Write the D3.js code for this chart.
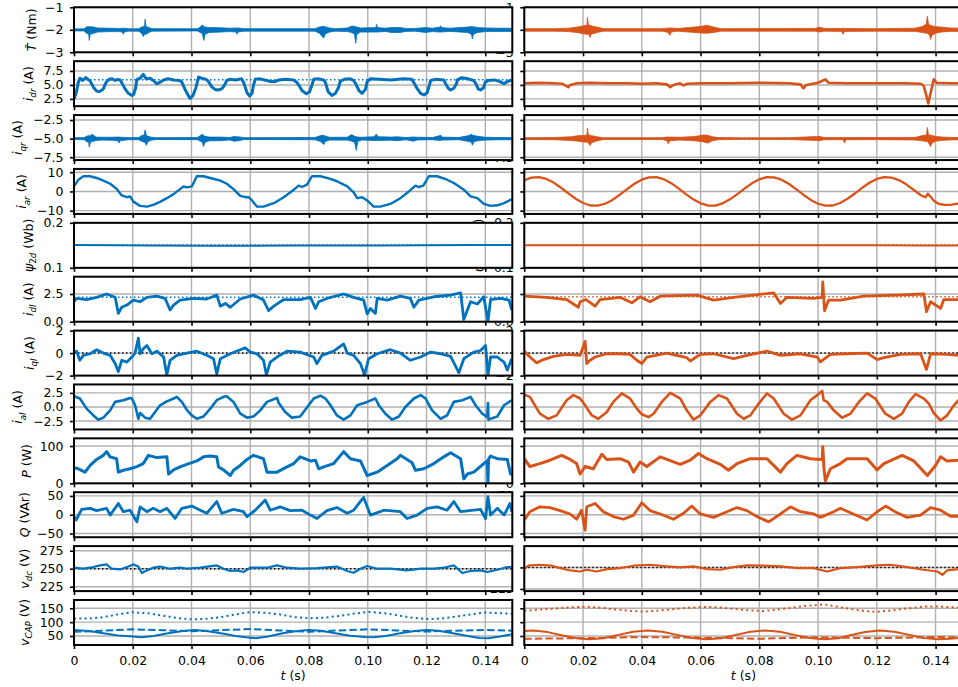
<!DOCTYPE html>
<html>
<head>
<meta charset="utf-8">
<script src="https://cdn.jsdelivr.net/npm/d3@7"></script>
<style>
body { margin: 0; background: #fff; }
text { font-family: "DejaVu Sans", sans-serif; }
</style>
</head>
<body>
<div id="chart"></div>
<script>
// ---- data, time in ms ----
// noise envelopes [t, low, high]
var tqL = [[0,-2.05,-1.96],[3.5,-2.05,-1.95],[4.2,-2.15,-1.88],[5.0,-2.2,-1.85],[5.2,-2.47,-1.88],[5.5,-2.2,-1.86],[6.8,-2.15,-1.88],[8,-2.1,-1.92],[12,-2.08,-1.93],[15.7,-2.08,-1.94],[16.6,-2.12,-1.93],[16.8,-2.2,-1.93],[17.1,-2.1,-1.93],[18.5,-2.06,-1.95],[22,-2.06,-1.95],[23,-2.15,-1.88],[23.6,-2.3,-1.85],[24.0,-2.2,-1.85],[24.2,-2.2,-1.53],[24.5,-2.2,-1.85],[25.5,-2.12,-1.9],[26.5,-2.06,-1.95],[42,-2.05,-1.95],[43,-2.12,-1.88],[43.7,-2.18,-1.78],[44.2,-2.47,-1.86],[44.6,-2.2,-1.88],[46,-2.12,-1.9],[50,-2.1,-1.91],[53,-2.08,-1.93],[55.2,-2.1,-1.92],[55.5,-2.2,-1.92],[55.8,-2.1,-1.92],[58,-2.06,-1.95],[82,-2.06,-1.95],[83.5,-2.15,-1.88],[85,-2.37,-1.84],[85.4,-2.2,-1.86],[87,-2.1,-1.92],[89,-2.06,-1.95],[93,-2.08,-1.92],[94.5,-2.12,-1.84],[95.5,-2.2,-1.84],[95.9,-2.6,-1.86],[96.3,-2.2,-1.88],[97.5,-2.1,-1.92],[100,-2.1,-1.91],[102.8,-2.1,-1.9],[103,-2.1,-1.76],[103.3,-2.1,-1.9],[106,-2.07,-1.93],[108,-2.12,-1.9],[111,-2.12,-1.9],[113,-2.07,-1.94],[116,-2.06,-1.94],[119.7,-2.12,-1.9],[122,-2.08,-1.93],[124.6,-2.1,-1.88],[124.8,-2.1,-1.82],[125.1,-2.1,-1.9],[128,-2.07,-1.93],[134,-2.12,-1.88],[135.3,-2.2,-1.85],[135.6,-2.4,-1.86],[136,-2.2,-1.86],[137.3,-2.12,-1.9],[140,-2.08,-1.92],[145,-2.07,-1.93],[149,-2.07,-1.93]];
var tqR = [[0,-2.06,-1.95],[10,-2.06,-1.95],[15,-2.08,-1.93],[18,-2.12,-1.88],[20.3,-2.18,-1.82],[21.3,-2.2,-1.8],[21.5,-2.2,-1.44],[21.8,-2.22,-1.78],[22.2,-2.25,-1.8],[22.4,-2.34,-1.8],[22.7,-2.2,-1.82],[24,-2.15,-1.86],[25.5,-2.1,-1.9],[27,-2.06,-1.95],[47,-2.06,-1.95],[49,-2.12,-1.92],[49.5,-2.25,-1.92],[50,-2.1,-1.92],[52,-2.06,-1.94],[56,-2.1,-1.9],[60,-2.14,-1.85],[62.2,-2.15,-1.8],[64.5,-2.12,-1.88],[67,-2.06,-1.95],[99,-2.06,-1.94],[100.5,-2.1,-1.88],[102,-2.06,-1.94],[108,-2.07,-1.94],[108.5,-2.2,-1.93],[109,-2.07,-1.94],[120,-2.06,-1.95],[133,-2.07,-1.93],[135.5,-2.12,-1.85],[136.8,-2.15,-1.75],[137.2,-2.15,-1.4],[137.6,-2.2,-1.75],[138.0,-2.25,-1.78],[138.3,-2.43,-1.8],[138.7,-2.25,-1.82],[140,-2.15,-1.86],[142,-2.1,-1.88],[145,-2.07,-1.92],[149,-2.07,-1.93]];
var iqL = [[0,-5.12,-4.88],[3.5,-5.14,-4.86],[4.2,-5.4,-4.7],[5.0,-5.5,-4.6],[5.2,-6.16,-4.65],[5.6,-5.5,-4.55],[6.3,-5.4,-4.46],[7.5,-5.25,-4.8],[10,-5.2,-4.82],[13,-5.22,-4.82],[15,-5.3,-4.8],[15.3,-5.6,-4.8],[15.7,-5.3,-4.82],[18.5,-5.15,-4.86],[22,-5.15,-4.86],[23,-5.35,-4.6],[23.9,-5.5,-4.5],[24.2,-5.5,-3.84],[24.6,-5.9,-4.5],[25.2,-5.4,-4.7],[26.5,-5.2,-4.82],[28,-5.12,-4.88],[42,-5.14,-4.86],[43,-5.35,-4.6],[43.7,-5.5,-4.4],[44.1,-6.07,-4.6],[44.6,-5.5,-4.7],[46,-5.3,-4.8],[50,-5.28,-4.8],[53,-5.18,-4.85],[54.5,-5.35,-4.72],[56.5,-5.25,-4.78],[58,-5.12,-4.88],[82,-5.15,-4.85],[84,-5.4,-4.6],[85,-5.8,-4.55],[85.5,-5.4,-4.65],[87,-5.2,-4.82],[93,-5.2,-4.82],[94.5,-5.35,-4.46],[95.5,-5.5,-4.7],[96.1,-6.6,-4.75],[96.6,-5.4,-4.8],[98,-5.2,-4.82],[102,-5.25,-4.75],[103,-5.25,-4.4],[103.4,-5.25,-4.75],[108,-5.22,-4.8],[110,-5.28,-4.76],[113,-5.15,-4.86],[115.5,-5.35,-4.78],[117,-5.18,-4.82],[122,-5.15,-4.85],[124.6,-5.25,-4.6],[124.8,-5.25,-4.5],[125.2,-5.2,-4.8],[131,-5.15,-4.85],[134.4,-5.4,-4.6],[135.3,-5.5,-4.4],[135.6,-5.9,-4.55],[136.2,-5.4,-4.6],[137.5,-5.3,-4.7],[140,-5.2,-4.82],[145,-5.15,-4.86],[149,-5.15,-4.86]];
var iqR = [[0,-5.12,-4.88],[10,-5.15,-4.86],[16,-5.25,-4.75],[18.4,-5.35,-4.6],[20.3,-5.45,-4.6],[21.3,-5.5,-4.5],[21.5,-5.5,-3.57],[21.8,-5.6,-4.5],[22.4,-5.94,-4.55],[22.8,-5.6,-4.6],[24,-5.4,-4.7],[25.5,-5.25,-4.8],[27,-5.12,-4.88],[47,-5.12,-4.88],[48.5,-5.3,-4.8],[49,-5.7,-4.8],[49.5,-5.3,-4.8],[53,-5.2,-4.82],[58,-5.3,-4.72],[61,-5.45,-4.5],[62.5,-5.6,-4.55],[64,-5.3,-4.75],[66,-5.15,-4.86],[75,-5.1,-4.9],[90,-5.12,-4.88],[99.5,-5.25,-4.72],[100.5,-5.3,-4.7],[102,-5.15,-4.86],[108.5,-5.15,-4.86],[109,-5.6,-4.86],[109.5,-5.15,-4.86],[120,-5.14,-4.86],[133,-5.18,-4.84],[135.5,-5.3,-4.6],[136.9,-5.4,-4.5],[137.2,-5.4,-3.5],[137.6,-5.6,-4.5],[138.3,-6.07,-4.55],[138.8,-5.6,-4.6],[140,-5.35,-4.7],[142,-5.25,-4.78],[145,-5.18,-4.84],[149,-5.15,-4.86]];

// lines [t, value]
var idrL = [[0,2.5],[0.7,3.5],[1.5,5.5],[2.0,6.2],[3,5.8],[4,6.3],[5,5.9],[5.5,5.7],[6.6,4.6],[7.7,3.9],[8.3,3.8],[9,3.9],[10,4.3],[10.5,5.0],[11.1,5.6],[12,6.0],[13,6.1],[14,5.8],[15,6.0],[15.7,5.9],[16.25,5.4],[17.4,4.3],[18.5,3.5],[19.7,3.1],[20.3,3.3],[21,4.5],[21.4,6.0],[22.5,6.2],[23.6,6.9],[24.5,6.1],[25.9,6.2],[27,5.8],[28.2,5.2],[29.3,5.5],[30.5,5.9],[32,6.1],[34,5.9],[36,5.8],[36.7,5.5],[37.8,4.2],[38.8,3.2],[39.5,2.6],[40.5,3.1],[41.5,4.5],[42.4,6.4],[43.5,6.2],[45,6.0],[45.8,5.6],[47,4.6],[48,4.2],[49,4.1],[50.3,4.3],[51.3,5.0],[52,5.8],[53,6.0],[55,5.9],[57,6.1],[57.7,5.5],[58.9,3.6],[59.8,3.0],[60.6,3.5],[61.1,5.0],[61.7,6.0],[63,6.1],[65.7,5.8],[66.8,5.6],[68.5,5.6],[69.7,5.9],[72,6.0],[74.8,5.9],[75.9,5.4],[76.5,5.0],[77.6,4.0],[79.1,3.4],[80.2,3.8],[81,5.0],[81.6,6.0],[83,6.1],[85,5.9],[85.6,5.4],[86.5,3.8],[87.8,3.1],[89,3.5],[90,4.5],[90.7,5.7],[92,6.0],[94,6.1],[95.2,5.8],[95.8,5.3],[97,4.0],[98.1,3.5],[99.2,4.2],[99.8,5.6],[101,6.1],[104,6.0],[108,5.9],[112,6.1],[115,6.0],[115.7,5.4],[117,4.2],[118,3.5],[119.1,3.2],[120.2,3.6],[121,5.0],[121.4,5.8],[123,6.0],[125.9,5.9],[126.5,5.2],[127.4,4.4],[128.2,4.1],[129.3,4.4],[130.2,5.2],[130.5,5.9],[132,6.3],[134,6.1],[136.1,5.8],[136.7,5.3],[137.6,4.3],[138.4,4.1],[139.4,4.5],[140,5.5],[141,5.8],[143,5.9],[145,5.6],[146.4,5.2],[147.5,5.6],[149,5.9]];
var idrR = [[0,5.3],[5,5.4],[10,5.3],[13,5.2],[14.4,4.8],[15,4.6],[15.6,5.0],[18,5.3],[22,5.4],[28,5.3],[35,5.3],[40,5.2],[45,5.3],[48.5,5.1],[49.7,4.6],[50.8,5.0],[53,5.3],[54.2,4.9],[55.3,5.2],[60,5.3],[70,5.3],[80,5.4],[90,5.3],[94,5.1],[95,4.4],[96,5.0],[100,5.4],[102.5,6.0],[103.5,5.4],[110,5.3],[120,5.3],[130,5.3],[135,5.2],[136,4.8],[136.9,3.0],[137.5,1.7],[138.3,3.5],[139.4,6.0],[140.3,5.4],[145,5.3],[149,5.3]];
var iarL = [[0,2.6],[1.5,6.1],[3.2,7.9],[5.5,7.9],[7.7,7.0],[10,5.6],[12.3,4.0],[14.5,1.4],[16.25,-2.1],[18,-3.0],[19.1,-2.6],[20.2,-5.3],[22.5,-7.5],[24.8,-7.9],[27,-7.0],[29.3,-5.4],[31.6,-3.5],[33.9,-1.4],[36.1,1.2],[37.3,2.6],[38.4,2.1],[40.1,2.6],[41.8,7.9],[44.1,7.9],[46.4,7.0],[49.8,5.6],[52,4.0],[54.3,1.2],[56.6,-2.3],[58.3,-3.0],[59.4,-3.0],[60.6,-4.7],[62.3,-7.9],[64.5,-7.9],[68,-6.1],[71.4,-3.0],[74.8,0.9],[76.5,3.0],[77.6,2.3],[79.3,3.5],[81,7.9],[83.9,7.9],[87.3,6.5],[89.5,5.3],[93,2.6],[95.2,-0.5],[96.4,-3.5],[98.1,-3.0],[99.8,-4.7],[102,-7.9],[104.3,-7.9],[107.7,-6.5],[111.1,-3.5],[114,0],[116.25,3.0],[117.4,2.3],[118.9,3.0],[120.8,7.9],[123.6,7.9],[127,6.1],[129.3,4.4],[132.7,0.9],[135,-2.6],[137.3,-3.5],[139.5,-6.5],[141.8,-7.5],[144.1,-7.2],[146.4,-6.1],[149,-4.0]];
var iarR = [[0,5.9],[2.5,7.2],[5,7.4],[7.5,6.5],[10,4.6],[12.5,1.9],[15,-1.0],[17.5,-3.8],[20,-6.0],[22.5,-7.3],[25,-7.4],[27.5,-6.4],[30,-4.4],[32.5,-1.7],[35,1.2],[37.5,4.0],[40,6.1],[42.5,7.3],[45,7.4],[47.5,6.3],[50,4.3],[52.5,1.6],[55,-1.4],[57.5,-4.1],[60,-6.2],[62.5,-7.3],[65,-7.4],[67.5,-6.2],[70,-4.1],[72.5,-1.4],[75,1.5],[77.5,4.2],[80,6.3],[82.5,7.4],[85,7.3],[87.5,6.1],[90,4.0],[92.5,1.2],[95,-1.7],[97.5,-4.4],[100,-6.4],[102.5,-7.4],[105,-7.3],[107.5,-6.0],[110,-3.8],[112.5,-1.1],[115,1.9],[117.5,4.5],[120,6.5],[122.5,7.4],[125,7.2],[127.5,5.9],[130,3.7],[132.5,0.9],[135,-2.0],[136.6,-3.0],[137.4,-1.2],[138.2,-2.6],[139.5,-5.0],[141,-6.4],[143,-7.0],[145,-7.0],[147.5,-6.3],[149,-5.9]];
var psiL = [[0,0.1506],[15,0.15],[25,0.1494],[45,0.1493],[60,0.1492],[75,0.1497],[90,0.1494],[105,0.1497],[120,0.1503],[135,0.1506],[149,0.1507]];
var psiR = [[0,0.15],[40,0.1499],[80,0.15],[120,0.1499],[135,0.1497],[149,0.1497]];
var idlL = [[0,1.8],[0.9,2.1],[4.3,2.0],[7.7,2.2],[11.1,2.5],[14,2.2],[15.1,0.75],[16.25,1.3],[18,1.5],[20.2,1.95],[22.5,1.8],[24.8,2.2],[28.2,2.3],[31,2.1],[32.7,1.05],[33.9,1.5],[36.1,1.95],[40.7,2.1],[45.2,2.05],[48.6,2.4],[49.8,1.4],[51.5,1.65],[53.2,1.3],[56.6,2.05],[61.1,2.4],[64.5,1.95],[66.25,1.0],[68,1.4],[71.4,2.0],[77,2.0],[80.5,2.2],[82.2,1.2],[83.3,1.8],[86.1,2.1],[91.8,2.5],[95.2,2.2],[98.6,1.95],[99.8,0.7],[100.9,1.2],[102.6,0.75],[103.2,2.1],[106.6,1.95],[111.1,2.3],[114.5,2.1],[115.7,1.3],[117.4,1.95],[122.5,2.25],[128.2,2.4],[131.6,2.6],[132.7,0.2],[133.9,1.05],[135,1.8],[137.3,1.6],[139.5,2.25],[140.9,0.0],[141.8,2.0],[145.2,2.1],[148.1,1.95],[149,1.05]];
var idlR = [[0,2.3],[7.6,2.2],[14.4,2.0],[18.4,1.3],[19,1.8],[21,2.0],[24.1,1.4],[25.8,2.0],[32.6,2.2],[36.6,1.7],[39.4,2.25],[42.8,1.8],[46.25,2.3],[58.75,2.4],[64.4,1.95],[71.25,2.2],[84.9,2.6],[87.2,1.65],[89.4,2.2],[98.5,2.1],[101.4,2.2],[101.6,3.6],[102.2,1.0],[103.6,1.95],[107.6,1.95],[115.6,2.3],[126.9,2.4],[136,2.5],[136.9,0.9],[138.3,1.8],[141.7,1.2],[142.8,2.0],[149,2.0]];
var iqlL = [[0,0],[0.9,0.17],[2.0,-0.64],[3.2,-0.2],[5.5,-0.06],[7.7,0.3],[10,0],[12.3,-0.2],[14,-0.93],[15.1,-1.65],[16.25,-0.64],[18,-0.8],[19.7,-0.35],[20.8,0],[21.9,1.33],[22.5,-0.06],[23.6,0.38],[24.8,0.67],[26.5,-0.06],[28.2,0.17],[30.5,-0.35],[31.6,-1.94],[32.7,-0.64],[35,-0.2],[38.4,0],[41.8,0.17],[45.2,-0.2],[47.5,-0.5],[48.6,-1.86],[49.8,-0.5],[53.2,-0.06],[56.6,0.3],[58.3,0.46],[60,0.09],[62.3,-0.06],[64.5,-0.64],[65.5,-1.94],[66.8,-0.8],[69.1,-0.35],[72.5,0.17],[77,0.09],[81.6,-0.35],[82.7,-0.93],[84.4,-0.2],[88.4,0.17],[91.8,0.81],[93,0],[95.2,-0.2],[97.5,-0.93],[98.9,-1.94],[100.3,-0.5],[103.2,-0.06],[107.7,0.3],[111.1,0],[114.5,-0.64],[118,-0.35],[121.4,0.09],[124.8,-0.06],[128.2,-0.29],[131,-1.74],[132.7,-0.5],[136.1,0.09],[138.4,0.23],[140.1,0.67],[140.9,-2.0],[141.8,-0.35],[144.1,-0.35],[146.4,-0.8],[147.5,-1.5],[149,-0.5]];
var iqlR = [[0,0.17],[1.9,-0.35],[4.2,-0.87],[6.5,-0.58],[9.9,-0.29],[14.4,-0.12],[19,-0.2],[20.7,1.04],[21.25,-0.93],[22.4,-0.64],[24.1,-0.35],[28.1,-0.06],[32.6,-0.06],[36,-0.12],[38.3,-0.64],[40,-0.93],[41.7,-0.35],[48.5,0],[55.3,-0.41],[56.5,-0.7],[59.9,-0.12],[64.4,-0.06],[71.25,-0.5],[75.8,-0.2],[82.6,0.17],[87.2,-0.2],[94,-0.06],[99.7,-0.35],[100.8,-0.78],[104.2,-0.12],[109.9,-0.06],[116.7,0],[120.1,-0.58],[122.4,-0.41],[128.1,-0.12],[134.9,-0.06],[136.9,-1.45],[138.3,-0.06],[143.9,-0.12],[147.8,-0.2],[149,-0.1]];
var ialL = [[0,1.9],[2.0,1.5],[4.3,-0.3],[6.6,-1.5],[8.3,-2.26],[10,-1.9],[12.3,-0.6],[14,0.9],[16.8,1.2],[19.1,1.6],[19.7,1.5],[20.8,0.3],[21.9,-2.1],[22.5,-1.07],[24.2,-1.9],[25.9,-2.1],[27.6,-0.9],[29.3,0.3],[31.6,1.0],[33.9,1.5],[35,1.8],[36.7,0.9],[38.4,-0.5],[40.1,-1.5],[41.8,-2.1],[44.1,-1.7],[46.4,-0.3],[48.6,1.2],[50.9,1.8],[52,1.9],[54.3,0.9],[56.6,-1.2],[58.9,-1.9],[61.1,-1.7],[63.4,-0.6],[65.7,0.9],[69.1,1.6],[69.7,0.7],[71.9,-0.9],[74.2,-1.9],[77,-1.7],[79.3,-0.1],[81.6,1.5],[83.9,2.0],[85.6,1.5],[87.3,0.3],[89.5,-1.5],[91.8,-2.26],[94.1,-1.5],[96.4,0.3],[99.8,0.9],[102.6,1.5],[103.75,0.3],[106,-1.2],[108.3,-2.26],[110.6,-1.7],[112.8,0],[115.7,1.5],[118,2.1],[119.7,1.5],[121.9,-0.6],[124.8,-2.1],[127,-1.5],[129.3,0.9],[132.2,1.2],[135,1.8],[136.7,0.3],[139,-1.2],[140.7,-1.8],[140.9,0.7],[141.1,-2.26],[141.8,-2.1],[144.1,-1.7],[146.4,0.3],[149,1.2]];
var ialR = [[0,2.2],[1.9,1.8],[5.3,-1.2],[8.2,-2.1],[11,-1.5],[14.4,1.2],[16.7,2.1],[19,1.5],[20.7,0.3],[21.8,-0.6],[23,-1.5],[25.2,-2.1],[28.1,-0.9],[30.3,0.9],[33.2,2.4],[36,1.5],[38.3,-0.3],[40,-1.3],[42.3,-1.8],[44,-1.2],[46.8,0.9],[49.7,2.5],[53.1,1.5],[55.3,-0.6],[57.6,-2.26],[59.9,-1.5],[63.3,0.9],[66.1,2.1],[69,1.5],[72.4,-1.2],[74.7,-2.1],[76.9,-1.5],[79.8,0.6],[82.6,2.4],[84.9,1.5],[88.3,-1.2],[91.1,-2.26],[94,-1.5],[97.4,1.2],[99.7,2.1],[101.4,2.86],[101.9,1.2],[103.1,0.9],[105.3,-0.6],[108.2,-1.9],[111,-1.2],[113.9,0.9],[116.7,2.4],[119.5,1.5],[122.9,-1.2],[125.8,-2.1],[128.6,-1.2],[130.9,0.9],[133.2,2.3],[136,1.5],[137.7,0.6],[139.4,-1.1],[141.7,-2.4],[143.9,-1.5],[146.25,0.3],[147.8,1.2],[149,1.8]];
var pL = [[0,42],[1.5,39],[3.75,30],[5.5,48],[7.7,64],[10,75],[11.1,85],[12.3,71],[14.5,66],[15.1,30],[16.8,35],[19.1,39],[21.4,45],[23.6,53],[25.3,75],[28.2,69],[31.6,71],[32.2,25],[33.9,36],[36.1,44],[38.4,51],[41.8,60],[44.1,71],[46.4,73],[48.6,71],[49.2,44],[50.9,36],[53.2,21],[54.3,35],[56.6,48],[58.9,64],[61.1,75],[64.5,66],[65.7,30],[69.1,30],[72.5,44],[74.8,53],[77,71],[80.5,60],[82.2,62],[83.3,39],[85,44],[88.4,53],[91.8,85],[94.1,66],[97.5,60],[99.8,21],[103.2,30],[106.6,48],[110,66],[111.1,75],[115.1,55],[116.25,35],[119.1,39],[122.5,53],[125.9,71],[128.2,82],[131.6,66],[132.7,12],[133.9,25],[136.1,30],[139.5,53],[140.7,60],[140.9,0],[141.1,65],[141.8,73],[144.1,66],[147.5,64],[148.6,25],[149,25]];
var pR = [[0,66],[1.9,45],[5.3,53],[8.75,62],[12.7,75],[15.6,64],[17.8,53],[19,25],[20.7,45],[23.5,39],[26.4,78],[28.1,64],[32.6,66],[35.5,57],[37.2,30],[39.4,57],[41.7,45],[46.25,71],[53.1,51],[56.5,62],[59.3,80],[62.2,66],[66.7,51],[69.5,35],[72.4,53],[76.9,66],[82.6,66],[87.2,30],[89.4,53],[92.8,75],[97.4,66],[100.8,64],[101.4,65],[101.6,98],[102,40],[102.5,7],[104.2,39],[107.6,53],[109.9,66],[116.7,66],[120.1,36],[122.4,53],[128.6,75],[132.6,60],[137.2,21],[140,48],[141.7,71],[143.9,60],[147.8,62],[149,62]];
var qL = [[0,-5],[0.7,-14],[2.6,14],[5.5,17],[7.7,11],[11.1,17],[12.3,-1],[15.1,30],[16.8,8],[19.1,12],[21.4,-19],[22.5,21],[24.8,8],[27,17],[29.3,8],[31.6,17],[34.4,-10],[36.7,17],[40.1,23],[43,12],[45.2,4],[48.6,35],[50.3,4],[54.3,14],[57.7,8],[58.9,-5],[61.7,12],[65.1,39],[66.8,12],[70.2,21],[73.6,11],[77.6,12],[80.5,-1],[82.7,-10],[86.1,11],[89.5,19],[93,4],[95.2,12],[98.6,46],[100.9,-1],[105.5,12],[111.1,8],[113.4,-10],[116.8,-1],[120.2,17],[123.6,21],[127,12],[129.3,35],[131.6,8],[136.1,12],[138.4,14],[140.1,-10],[140.9,48],[141.8,-1],[144.1,17],[146.4,-1],[148.4,30],[149,8]];
var qR = [[0,-14],[1.9,8],[5.3,21],[8.75,19],[12.2,11],[15.6,2],[17.8,-12],[19.5,12],[20.7,-41],[21.25,21],[24.1,30],[26.9,8],[30.3,-5],[33.75,-12],[37.2,-1],[40,32],[42.8,11],[46.25,2],[50.8,-12],[54.2,4],[57,23],[59.9,2],[64.4,-7],[69,8],[72.4,19],[75.8,11],[79.2,-5],[83.2,-19],[87.2,2],[90.6,21],[94,8],[98.5,2],[100.8,-7],[105.3,8],[107.6,17],[111,5],[116.7,-14],[120.1,8],[123,23],[126.9,5],[130.3,-7],[134.9,-1],[138.3,19],[141.7,12],[145.1,-4],[147.8,-4],[149,-3]];
var vdcL = [[0,251.4],[3.2,250],[6.6,252.3],[8.9,254.6],[11.1,256],[12.8,250],[15.7,249],[18.5,253],[20.2,256],[21.9,253],[23.1,244],[24.8,247.7],[27,251.4],[29.3,253],[32.7,250],[36.1,251.4],[38.4,250],[43,251.4],[48.6,254.6],[50.9,250],[53.2,246.8],[55.5,247.7],[57.7,245.4],[60,251.4],[65.7,251.4],[69.1,254.6],[72.5,251.4],[77,250],[82.7,250.9],[87.3,252.3],[89.5,253],[93,246.8],[95.2,244.4],[97.5,250],[99.8,253.7],[103.2,250],[107.7,250],[113.4,247.7],[118,250],[122.5,250],[125.9,251.4],[129.3,254.6],[132.2,244],[135,246.8],[138.4,247.7],[140.7,245.4],[144.1,248.6],[147.5,252.3],[149,252.3]];
var vdcR = [[0,248.0],[1.4,252.0],[4.8,253.1],[9.3,252.0],[12.2,249.2],[15.6,246.5],[19,245.3],[21.25,247.3],[24.7,245.3],[28.1,248.0],[32.6,249.2],[37.2,252.0],[42.8,253.1],[48.5,251.2],[53.1,250],[57.6,251.2],[62.2,248.0],[66.7,247.3],[71.25,250.4],[75.8,252.3],[81.5,252.0],[87.2,251.2],[92.8,249.2],[98.5,249.2],[103.1,245.3],[107.6,249.2],[113.3,250.4],[120.1,252.3],[124.7,253.1],[130.3,250.4],[136,247.3],[140.6,245.3],[142.3,241.4],[143.9,246.5],[147.8,248.0],[149,248.5]];
var vcapL1 = [[0,72],[5,68],[10,60],[15,52],[20,48],[23,45],[27,50],[32,60],[37,68],[41,72],[45,68],[50,60],[55,50],[60,44],[62,42],[66,48],[71,60],[76,68],[80,72],[84,69],[89,60],[94,51],[99,46],[102,45],[106,50],[111,60],[116,68],[120,72],[124,69],[129,60],[134,50],[138,43],[141,42],[145,48],[149,56]];
var vcapL2 = [[0,65],[10,69],[20,74],[30,71],[40,67],[50,71],[60,75],[70,70],[80,65],[90,70],[100,74],[110,70],[120,66],[130,69],[140,72],[149,69]];
var vcapL3 = [[0,113],[5,113],[10,118],[15,128],[20,136],[25,132],[30,124],[35,115],[40,110],[45,112],[50,118],[55,128],[60,136],[65,134],[70,128],[75,118],[80,114],[85,116],[90,122],[95,130],[100,137],[105,133],[110,125],[115,116],[120,111],[125,113],[130,120],[135,128],[140,135],[145,132],[149,130]];
var vcapR1 = [[0,68],[3,70],[8,64],[13,52],[18,42],[22,38],[27,42],[32,54],[37,65],[42,70],[47,65],[52,54],[57,43],[62,38],[67,42],[72,54],[77,65],[82,70],[87,65],[92,54],[97,43],[102,38],[107,42],[111,53],[116,64],[121,70],[126,65],[131,54],[136,43],[141,38],[145,40],[149,44]];
var vcapR2 = [[0,40],[20,42],[40,46],[60,44],[80,40],[100,45],[120,42],[140,46],[149,45]];
var vcapR3 = [[0,141],[5,145],[10,149],[15,153],[21,156],[26,152],[31,146],[36,141],[40,138],[45,141],[50,146],[55,151],[61,155],[66,153],[71,148],[76,143],[81,140],[86,145],[91,152],[96,159],[102,164],[107,155],[112,146],[116,140],[120,137],[125,142],[130,149],[136,156],[141,157],[145,154],[149,152]];

var xTicks = [0, 0.02, 0.04, 0.06, 0.08, 0.10, 0.12, 0.14];

// ---- layout ----
var W = 958, H = 687, fs = 12.5;
var blue = "#0072BD", orange = "#D95319";
var panelTop = 7.3, panelH = 45, pitch = 53.88;
var cols = [{x0: 74, x1: 512.3, c: blue}, {x0: 524.3, x1: 962.6, c: orange}];
var tMax = 0.1492;
var DOT = "1.5,2.5";

var rows = [
  {dom: [-3, -1], ticks: [-3, -2, -1], fmt: "d", lab: [["T\u0302", "i"], [" (Nm)", "n"]],
   L: {bands: [tqL]}, R: {bands: [tqR]}},
  {dom: [1.2, 9.25], ticks: [2.5, 5, 7.5], fmt: ".1f", lab: [["i", "i"], ["dr", "s"], [" (A)", "n"]],
   L: {refs: [[5.95, blue]], lines: [{d: idrL, w: 3}]}, R: {lines: [{d: idrR, w: 2.6}]}},
  {dom: [-7.88, -1.84], ticks: [-7.5, -5, -2.5], fmt: ".1f", lab: [["i", "i"], ["qr", "s"], [" (A)", "n"]],
   L: {refs: [[-5, "#000"]], bands: [iqL]}, R: {refs: [[-5, "#000"]], bands: [iqR]}},
  {dom: [-11.7, 11.7], ticks: [-10, 0, 10], fmt: "d", lab: [["i", "i"], ["ar", "s"], [" (A)", "n"]],
   L: {lines: [{d: iarL, w: 2.4}]}, R: {lines: [{d: iarR, w: 2.3}]}},
  {dom: [0.1, 0.2], ticks: [0.1, 0.2], fmt: ".1f", lab: [["\u03c8", "i"], ["2", "u"], ["d", "s"], [" (Wb)", "n"]],
   L: {refs: [[0.15, "#000"]], lines: [{d: psiL, w: 2}]}, R: {refs: [[0.15, "#000"]], lines: [{d: psiR, w: 2}]}},
  {dom: [0, 4.06], ticks: [0, 2.5], fmt: ".1f", lab: [["i", "i"], ["dl", "s"], [" (A)", "n"]],
   L: {refs: [[2.2, blue]], lines: [{d: idlL, w: 2.8}]}, R: {refs: [[2.25, orange]], lines: [{d: idlR, w: 2.8}]}},
  {dom: [-2, 2], ticks: [-2, 0, 2], fmt: "d", lab: [["i", "i"], ["ql", "s"], [" (A)", "n"]],
   L: {refs: [[0, "#000"]], lines: [{d: iqlL, w: 2.8}]}, R: {refs: [[0, "#000"]], lines: [{d: iqlR, w: 2.8}]}},
  {dom: [-4, 4], ticks: [-2.5, 0, 2.5], fmt: ".1f", lab: [["i", "i"], ["al", "s"], [" (A)", "n"]],
   L: {lines: [{d: ialL, w: 2.6}]}, R: {lines: [{d: ialR, w: 2.6}]}},
  {dom: [0, 120.6], ticks: [0, 100], fmt: "d", lab: [["P", "i"], [" (W)", "n"]],
   L: {lines: [{d: pL, w: 3}]}, R: {lines: [{d: pR, w: 3}]}},
  {dom: [-59.8, 59.8], ticks: [-50, 0, 50], fmt: "d", lab: [["Q", "i"], [" (VAr)", "n"]],
   L: {lines: [{d: qL, w: 2.8}]}, R: {lines: [{d: qR, w: 2.8}]}},
  {dom: [218.9, 281.4], domR: [222.5, 274.8], ticks: [225, 250, 275], fmt: "d", lab: [["v", "i"], ["dc", "s"], [" (V)", "n"]],
   L: {refs: [[250, "#000"]], lines: [{d: vdcL, w: 2.2}]}, R: {refs: [[250, "#000"]], lines: [{d: vdcR, w: 2.2}]}},
  {dom: [17.5, 180], ticks: [50, 100, 150], fmt: "d", lab: [["v", "i"], ["CAP", "s"], [" (V)", "n"]],
   L: {lines: [{d: vcapL1, w: 2}, {d: vcapL2, w: 2, dash: "7.4,3.2"}, {d: vcapL3, w: 2, dash: "2,3.3"}]},
   R: {lines: [{d: vcapR1, w: 2}, {d: vcapR2, w: 2, dash: "7.4,3.2"}, {d: vcapR3, w: 2, dash: "2,3.3"}]}}
];

var svg = d3.select("#chart").append("svg")
    .attr("width", W).attr("height", H)
    .style("display", "block");

var xFmt = function(d) { return d === 0 ? "0" : d3.format(".2f")(d); };

function drawPanel(r, i, c) {
  var s = c ? r.R : r.L, col = cols[c];
  var top = panelTop + i * pitch, bot = top + panelH;
  var dom = (c && r.domR) ? r.domR : r.dom;
  var ticks = r.ticks.filter(v => v >= dom[0] && v <= dom[1]);
  var x = d3.scaleLinear().domain([0, tMax]).range([col.x0, col.x1]);
  var y = d3.scaleLinear().domain(dom).range([bot, top]);
  var g = svg.append("g");

  g.append("rect").attr("x", col.x0).attr("y", top)
    .attr("width", col.x1 - col.x0).attr("height", panelH).attr("fill", "#fff");

  var id = "clip" + i + "_" + c;
  g.append("clipPath").attr("id", id).append("rect")
    .attr("x", col.x0).attr("y", top).attr("width", col.x1 - col.x0).attr("height", panelH);

  // grid
  g.append("g").selectAll("line").data(xTicks).join("line")
    .attr("x1", d => x(d)).attr("x2", d => x(d)).attr("y1", top).attr("y2", bot)
    .attr("stroke", "#b0b0b0").attr("stroke-width", 1.4);
  g.append("g").selectAll("line").data(ticks).join("line")
    .attr("x1", col.x0).attr("x2", col.x1).attr("y1", d => y(d)).attr("y2", d => y(d))
    .attr("stroke", "#b0b0b0").attr("stroke-width", 1.4);

  var p = g.append("g").attr("clip-path", "url(#" + id + ")");
  (s.refs || []).forEach(function(rf) {
    p.append("line").attr("x1", col.x0).attr("x2", col.x1)
      .attr("y1", y(rf[0])).attr("y2", y(rf[0]))
      .attr("stroke", rf[1]).attr("stroke-width", 1.5).attr("stroke-dasharray", DOT);
  });
  (s.bands || []).forEach(function(b) {
    var area = d3.area().x(d => x(d[0] / 1000)).y0(d => y(d[1])).y1(d => y(d[2]));
    p.append("path").attr("d", area(b)).attr("fill", col.c)
      .attr("stroke", col.c).attr("stroke-width", 0.8).attr("stroke-linejoin", "round");
  });
  (s.lines || []).forEach(function(ln) {
    var line = d3.line().x(d => x(d[0] / 1000)).y(d => y(d[1]));
    p.append("path").attr("d", line(ln.d)).attr("fill", "none")
      .attr("stroke", col.c).attr("stroke-width", ln.w)
      .attr("stroke-linejoin", "round")
      .attr("stroke-dasharray", ln.dash || null);
  });

  // spines
  g.append("rect").attr("x", col.x0).attr("y", top)
    .attr("width", col.x1 - col.x0).attr("height", panelH)
    .attr("fill", "none").attr("stroke", "#000").attr("stroke-width", 2);

  var ya = g.append("g").attr("transform", "translate(" + col.x0 + ",0)")
    .call(d3.axisLeft(y).tickValues(ticks).tickSize(4).tickPadding(6.5).tickFormat(d3.format(r.fmt)));
  var xa = g.append("g").attr("transform", "translate(0," + bot + ")")
    .call(d3.axisBottom(x).tickValues(xTicks).tickSize(4).tickPadding(7).tickFormat(i == 11 ? xFmt : ""));
  [ya, xa].forEach(function(a) {
    a.attr("font-size", null).attr("font-family", null);
    a.select(".domain").remove();
    a.selectAll(".tick line").attr("stroke", "#000").attr("stroke-width", 1.6);
    a.selectAll(".tick text").attr("font-size", fs).attr("fill", "#000");
  });

  // y label, placed left of the widest tick label
  var tickLeft = d3.min(ya.selectAll(".tick text").nodes(), n => col.x0 + n.getBBox().x);
  var cy = (top + bot) / 2;
  var lab = g.append("text").attr("font-size", fs).attr("text-anchor", "middle").attr("fill", "#000");
  var shift = 0, sub = 3.2;
  r.lab.forEach(function(seg) {
    var isSub = seg[1] == "s" || seg[1] == "u";
    var ts = lab.append("tspan").text(seg[0]);
    if (seg[1] != "n" && seg[1] != "u") ts.attr("font-style", "italic");
    if (isSub) ts.attr("font-size", fs * 0.7);
    var want = isSub ? sub : 0;
    if (want != shift) { ts.attr("dy", want - shift); shift = want; }
  });
  var bb = lab.node().getBBox();
  var tx = tickLeft - 5.6 - (bb.y + bb.height);
  lab.attr("transform", "translate(" + tx + "," + cy + ") rotate(-90)");
}

// right column first, the left one is drawn over it
rows.forEach(function(r, i) { drawPanel(r, i, 1); });
rows.forEach(function(r, i) { drawPanel(r, i, 0); });

cols.forEach(function(col) {
  svg.append("text").attr("x", (col.x0 + col.x1) / 2).attr("y", 680)
    .attr("text-anchor", "middle").attr("font-size", fs)
    .call(t => { t.append("tspan").attr("font-style", "italic").text("t"); t.append("tspan").text(" (s)"); });
});
</script>
</body>
</html>
